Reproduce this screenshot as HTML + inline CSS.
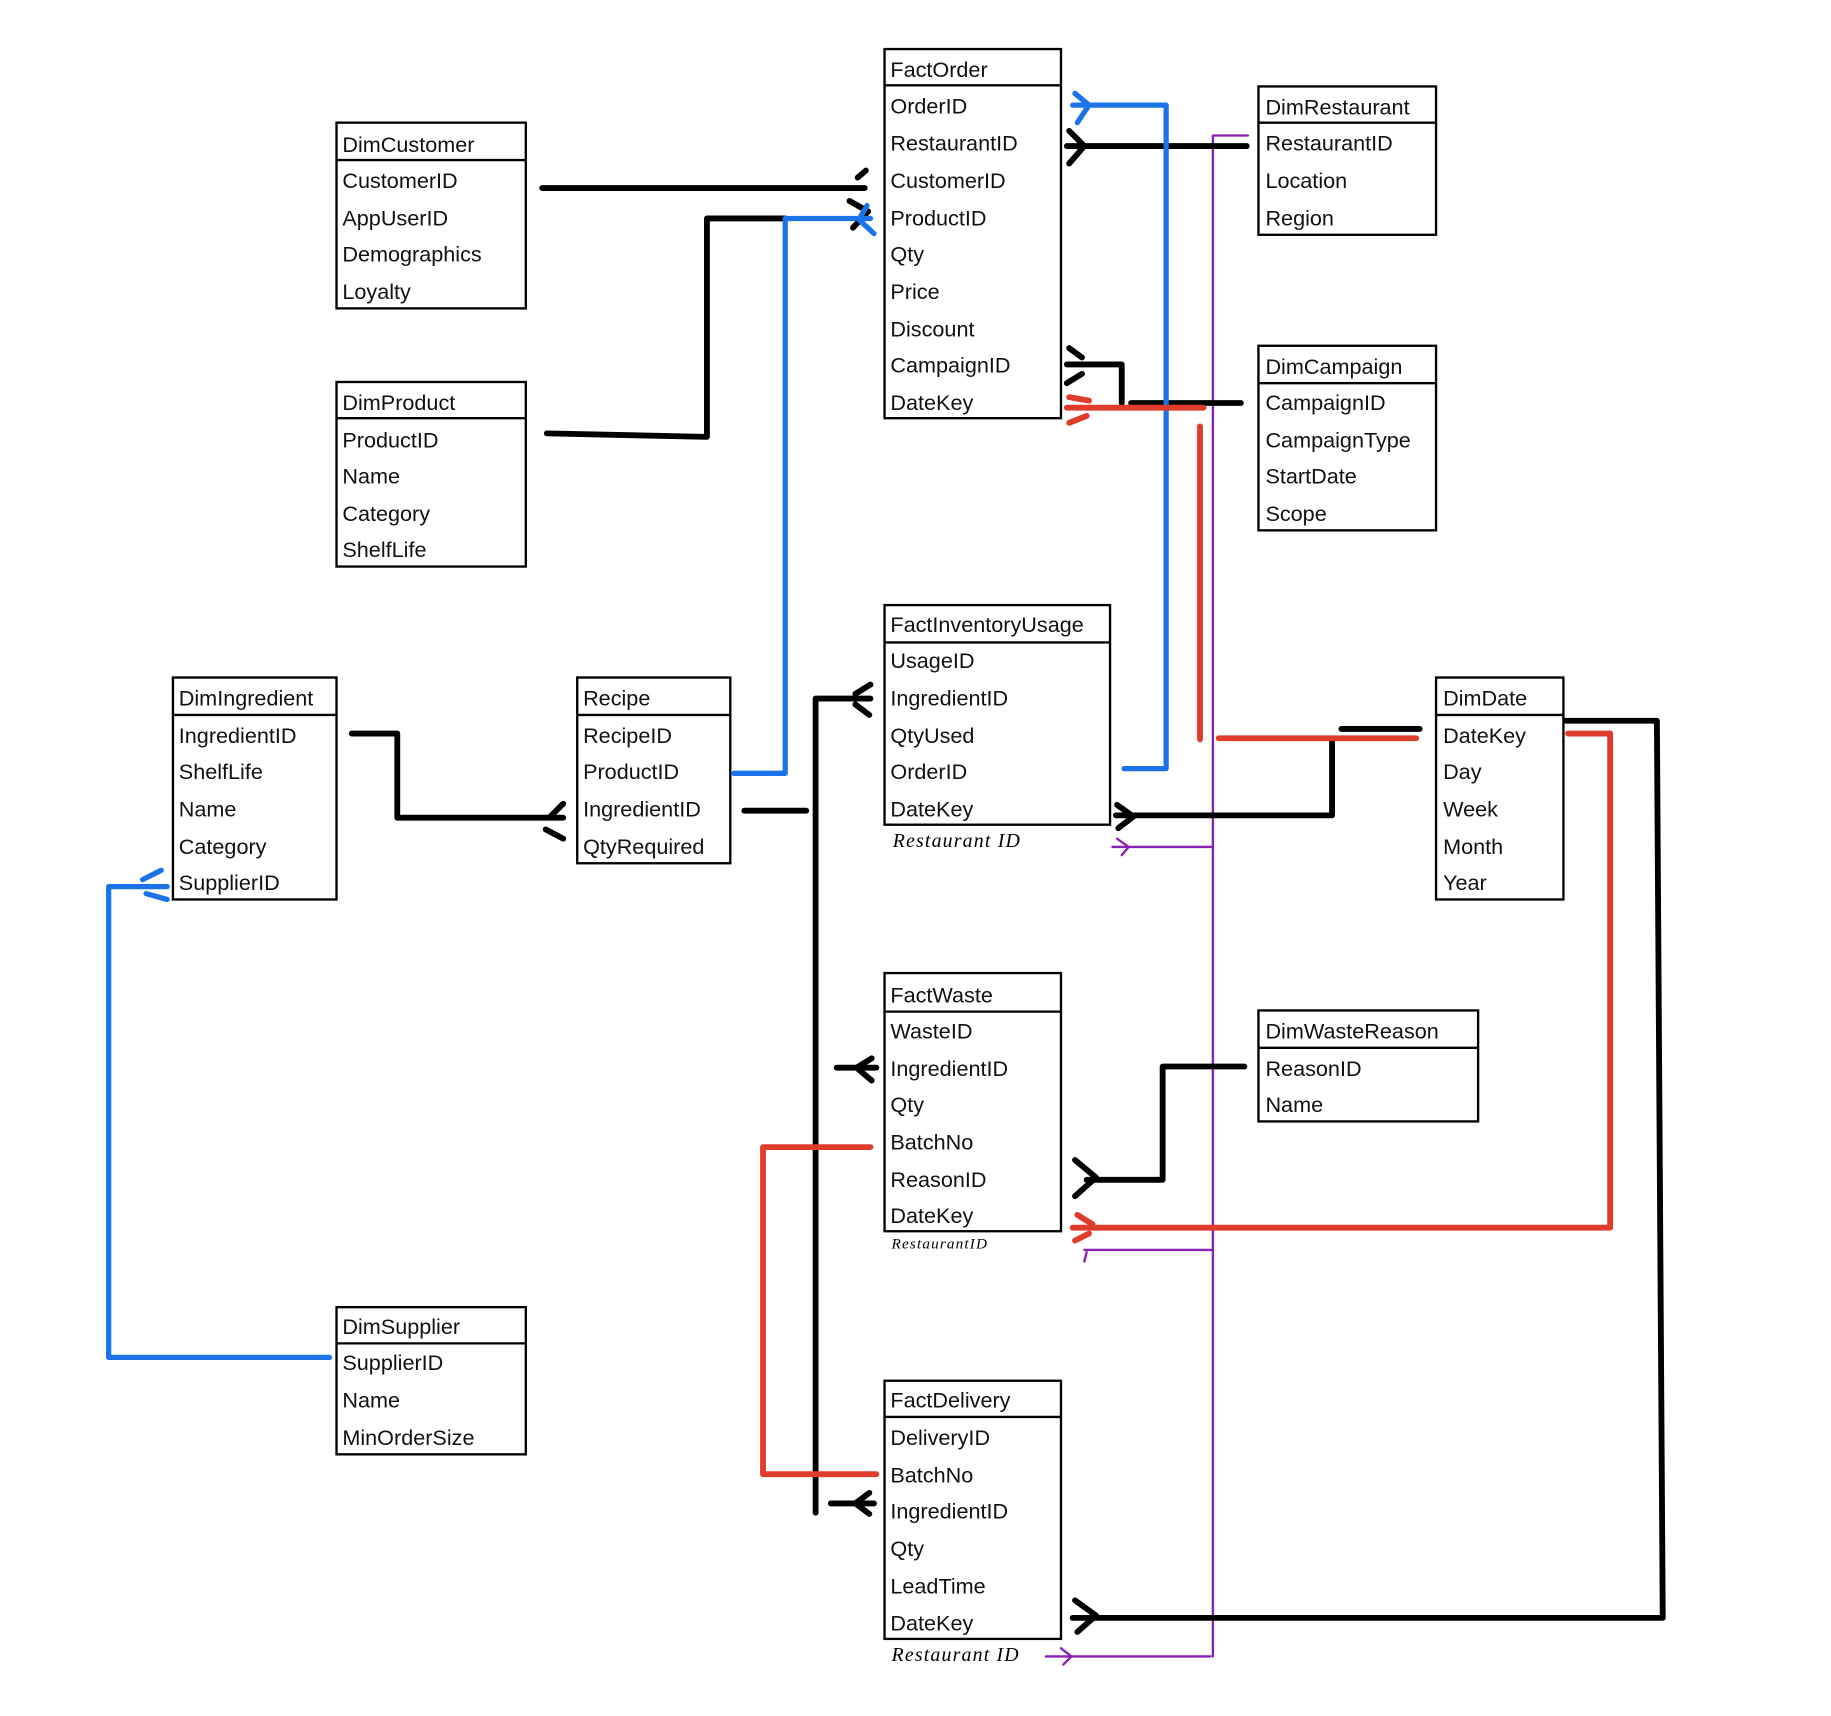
<!DOCTYPE html>
<html><head><meta charset="utf-8"><style>
html,body{margin:0;padding:0;background:#fff;}
svg{display:block;}
text{font-family:"Liberation Sans",sans-serif;font-size:18.5px;fill:#111;}
.h{font-family:"Liberation Serif",serif;font-style:italic;font-size:17px;fill:#000;letter-spacing:1px;}
</style></head><body>
<svg width="1831" height="1716" viewBox="0 0 1567 1469" preserveAspectRatio="none" xmlns="http://www.w3.org/2000/svg">
<g fill="none" stroke="#000" stroke-width="2">
<rect x="757" y="42" width="151" height="316"/><line x1="757" y1="73" x2="908" y2="73"/>
<rect x="288" y="105" width="162" height="159"/><line x1="288" y1="137" x2="450" y2="137"/>
<rect x="288" y="327" width="162" height="158"/><line x1="288" y1="358" x2="450" y2="358"/>
<rect x="1077" y="74" width="152" height="127"/><line x1="1077" y1="105" x2="1229" y2="105"/>
<rect x="1077" y="296" width="152" height="158"/><line x1="1077" y1="328" x2="1229" y2="328"/>
<rect x="757" y="518" width="193" height="188"/><line x1="757" y1="550" x2="950" y2="550"/>
<rect x="148" y="580" width="140" height="190"/><line x1="148" y1="612" x2="288" y2="612"/>
<rect x="494" y="580" width="131" height="159"/><line x1="494" y1="612" x2="625" y2="612"/>
<rect x="1229" y="580" width="109" height="190"/><line x1="1229" y1="612" x2="1338" y2="612"/>
<rect x="757" y="833" width="151" height="221"/><line x1="757" y1="866" x2="908" y2="866"/>
<rect x="1077" y="865" width="188" height="95"/><line x1="1077" y1="897" x2="1265" y2="897"/>
<rect x="288" y="1119" width="162" height="126"/><line x1="288" y1="1150" x2="450" y2="1150"/>
<rect x="757" y="1182" width="151" height="221"/><line x1="757" y1="1213" x2="908" y2="1213"/>
</g>
<g>
<text x="762" y="66">FactOrder</text><text x="762" y="97">OrderID</text><text x="762" y="129">RestaurantID</text><text x="762" y="161">CustomerID</text><text x="762" y="193">ProductID</text><text x="762" y="224">Qty</text><text x="762" y="256">Price</text><text x="762" y="288">Discount</text><text x="762" y="319">CampaignID</text><text x="762" y="351">DateKey</text>
<text x="293" y="130">DimCustomer</text><text x="293" y="161">CustomerID</text><text x="293" y="193">AppUserID</text><text x="293" y="224">Demographics</text><text x="293" y="256">Loyalty</text>
<text x="293" y="351">DimProduct</text><text x="293" y="383">ProductID</text><text x="293" y="414">Name</text><text x="293" y="446">Category</text><text x="293" y="477">ShelfLife</text>
<text x="1083" y="98">DimRestaurant</text><text x="1083" y="129">RestaurantID</text><text x="1083" y="161">Location</text><text x="1083" y="193">Region</text>
<text x="1083" y="320">DimCampaign</text><text x="1083" y="351">CampaignID</text><text x="1083" y="383">CampaignType</text><text x="1083" y="414">StartDate</text><text x="1083" y="446">Scope</text>
<text x="762" y="541">FactInventoryUsage</text><text x="762" y="572">UsageID</text><text x="762" y="604">IngredientID</text><text x="762" y="636">QtyUsed</text><text x="762" y="667">OrderID</text><text x="762" y="699">DateKey</text>
<text x="153" y="604">DimIngredient</text><text x="153" y="636">IngredientID</text><text x="153" y="667">ShelfLife</text><text x="153" y="699">Name</text><text x="153" y="731">Category</text><text x="153" y="762">SupplierID</text>
<text x="499" y="604">Recipe</text><text x="499" y="636">RecipeID</text><text x="499" y="667">ProductID</text><text x="499" y="699">IngredientID</text><text x="499" y="731">QtyRequired</text>
<text x="1235" y="604">DimDate</text><text x="1235" y="636">DateKey</text><text x="1235" y="667">Day</text><text x="1235" y="699">Week</text><text x="1235" y="731">Month</text><text x="1235" y="762">Year</text>
<text x="762" y="858">FactWaste</text><text x="762" y="889">WasteID</text><text x="762" y="921">IngredientID</text><text x="762" y="952">Qty</text><text x="762" y="984">BatchNo</text><text x="762" y="1016">ReasonID</text><text x="762" y="1047">DateKey</text>
<text x="1083" y="889">DimWasteReason</text><text x="1083" y="921">ReasonID</text><text x="1083" y="952">Name</text>
<text x="293" y="1142">DimSupplier</text><text x="293" y="1173">SupplierID</text><text x="293" y="1205">Name</text><text x="293" y="1237">MinOrderSize</text>
<text x="762" y="1205">FactDelivery</text><text x="762" y="1237">DeliveryID</text><text x="762" y="1269">BatchNo</text><text x="762" y="1300">IngredientID</text><text x="762" y="1332">Qty</text><text x="762" y="1364">LeadTime</text><text x="762" y="1396">DateKey</text>
<text class="h" x="764" y="725">Restaurant ID</text>
<text class="h" x="763" y="1069" style="font-size:13px">RestaurantID</text>
<text class="h" x="763" y="1422">Restaurant ID</text>
</g>
<g fill="none" stroke-linecap="round" stroke-linejoin="round">
<g stroke="#8a1fb5" stroke-width="2">
<polyline points="1068,116 1038,116 1038,1418"/>
<line x1="952" y1="725" x2="1038" y2="725"/><polyline points="956,718 966,725 960,732"/>
<line x1="928" y1="1070" x2="1038" y2="1070"/><line x1="930" y1="1072" x2="928" y2="1080"/>
<line x1="895" y1="1418" x2="1036" y2="1418"/><polyline points="908,1411 917,1418 910,1425"/>
</g>
<g stroke="#000" stroke-width="5">
<line x1="464" y1="161" x2="740" y2="161"/>
<line x1="734" y1="152" x2="741" y2="146"/><polyline points="727,172 743,181 730,195"/>
<polyline points="468,371 605,374 605,187 672,187"/>
<line x1="913" y1="125" x2="1067" y2="125"/>
<polyline points="915,112 928,125 915,140"/>
<polyline points="913,312 960,312 960,345"/>
<line x1="968" y1="345" x2="1062" y2="345"/>
<line x1="915" y1="298" x2="926" y2="306"/><line x1="913" y1="328" x2="926" y2="320"/>
<line x1="1148" y1="624" x2="1215" y2="624"/>
<polyline points="1140,632 1140,698 955,698"/>
<polyline points="956,689 970,699 957,709"/>
<polyline points="301,628 340,628 340,700 482,700"/>
<line x1="482" y1="688" x2="470" y2="700"/><line x1="467" y1="710" x2="482" y2="718"/>
<line x1="637" y1="694" x2="690" y2="694"/>
<polyline points="745,598 698,598 698,1295"/>
<line x1="745" y1="586" x2="732" y2="594"/><line x1="732" y1="603" x2="744" y2="612"/>
<line x1="716" y1="914" x2="750" y2="914"/><polyline points="746,906 733,914 746,925"/>
<line x1="711" y1="1287" x2="748" y2="1287"/><polyline points="744,1278 732,1287 744,1296"/>
<polyline points="1065,913 995,913 995,1010 930,1010"/>
<polyline points="920,993 938,1008 920,1024"/>
<polyline points="1340,617 1418,617 1423,1385 918,1385"/>
<polyline points="920,1370 938,1383 922,1397"/>
</g>
<g stroke="#1a73e8" stroke-width="4.5">
<polyline points="628,662 672,662 672,187 745,187"/>
<polyline points="742,176 735,188 748,200"/>
<polyline points="918,90 998,90 998,658 962,658"/>
<polyline points="920,80 932,90 922,105"/>
<polyline points="282,1162 93,1162 93,759 143,759"/>
<line x1="122" y1="753" x2="138" y2="745"/><line x1="125" y1="765" x2="143" y2="770"/>
</g>
<g stroke="#e03c2c" stroke-width="5">
<line x1="913" y1="349" x2="1030" y2="349"/>
<line x1="915" y1="340" x2="932" y2="343"/><line x1="915" y1="362" x2="930" y2="356"/>
<line x1="1027" y1="365" x2="1027" y2="633"/>
<line x1="1043" y1="632" x2="1212" y2="632"/>
<polyline points="745,982 653,982 653,1262 750,1262"/>
<polyline points="918,1051 1378,1051 1378,628 1342,628"/>
<line x1="922" y1="1040" x2="935" y2="1048"/><line x1="920" y1="1062" x2="932" y2="1056"/>
</g>
</g>
</svg>
</body></html>
